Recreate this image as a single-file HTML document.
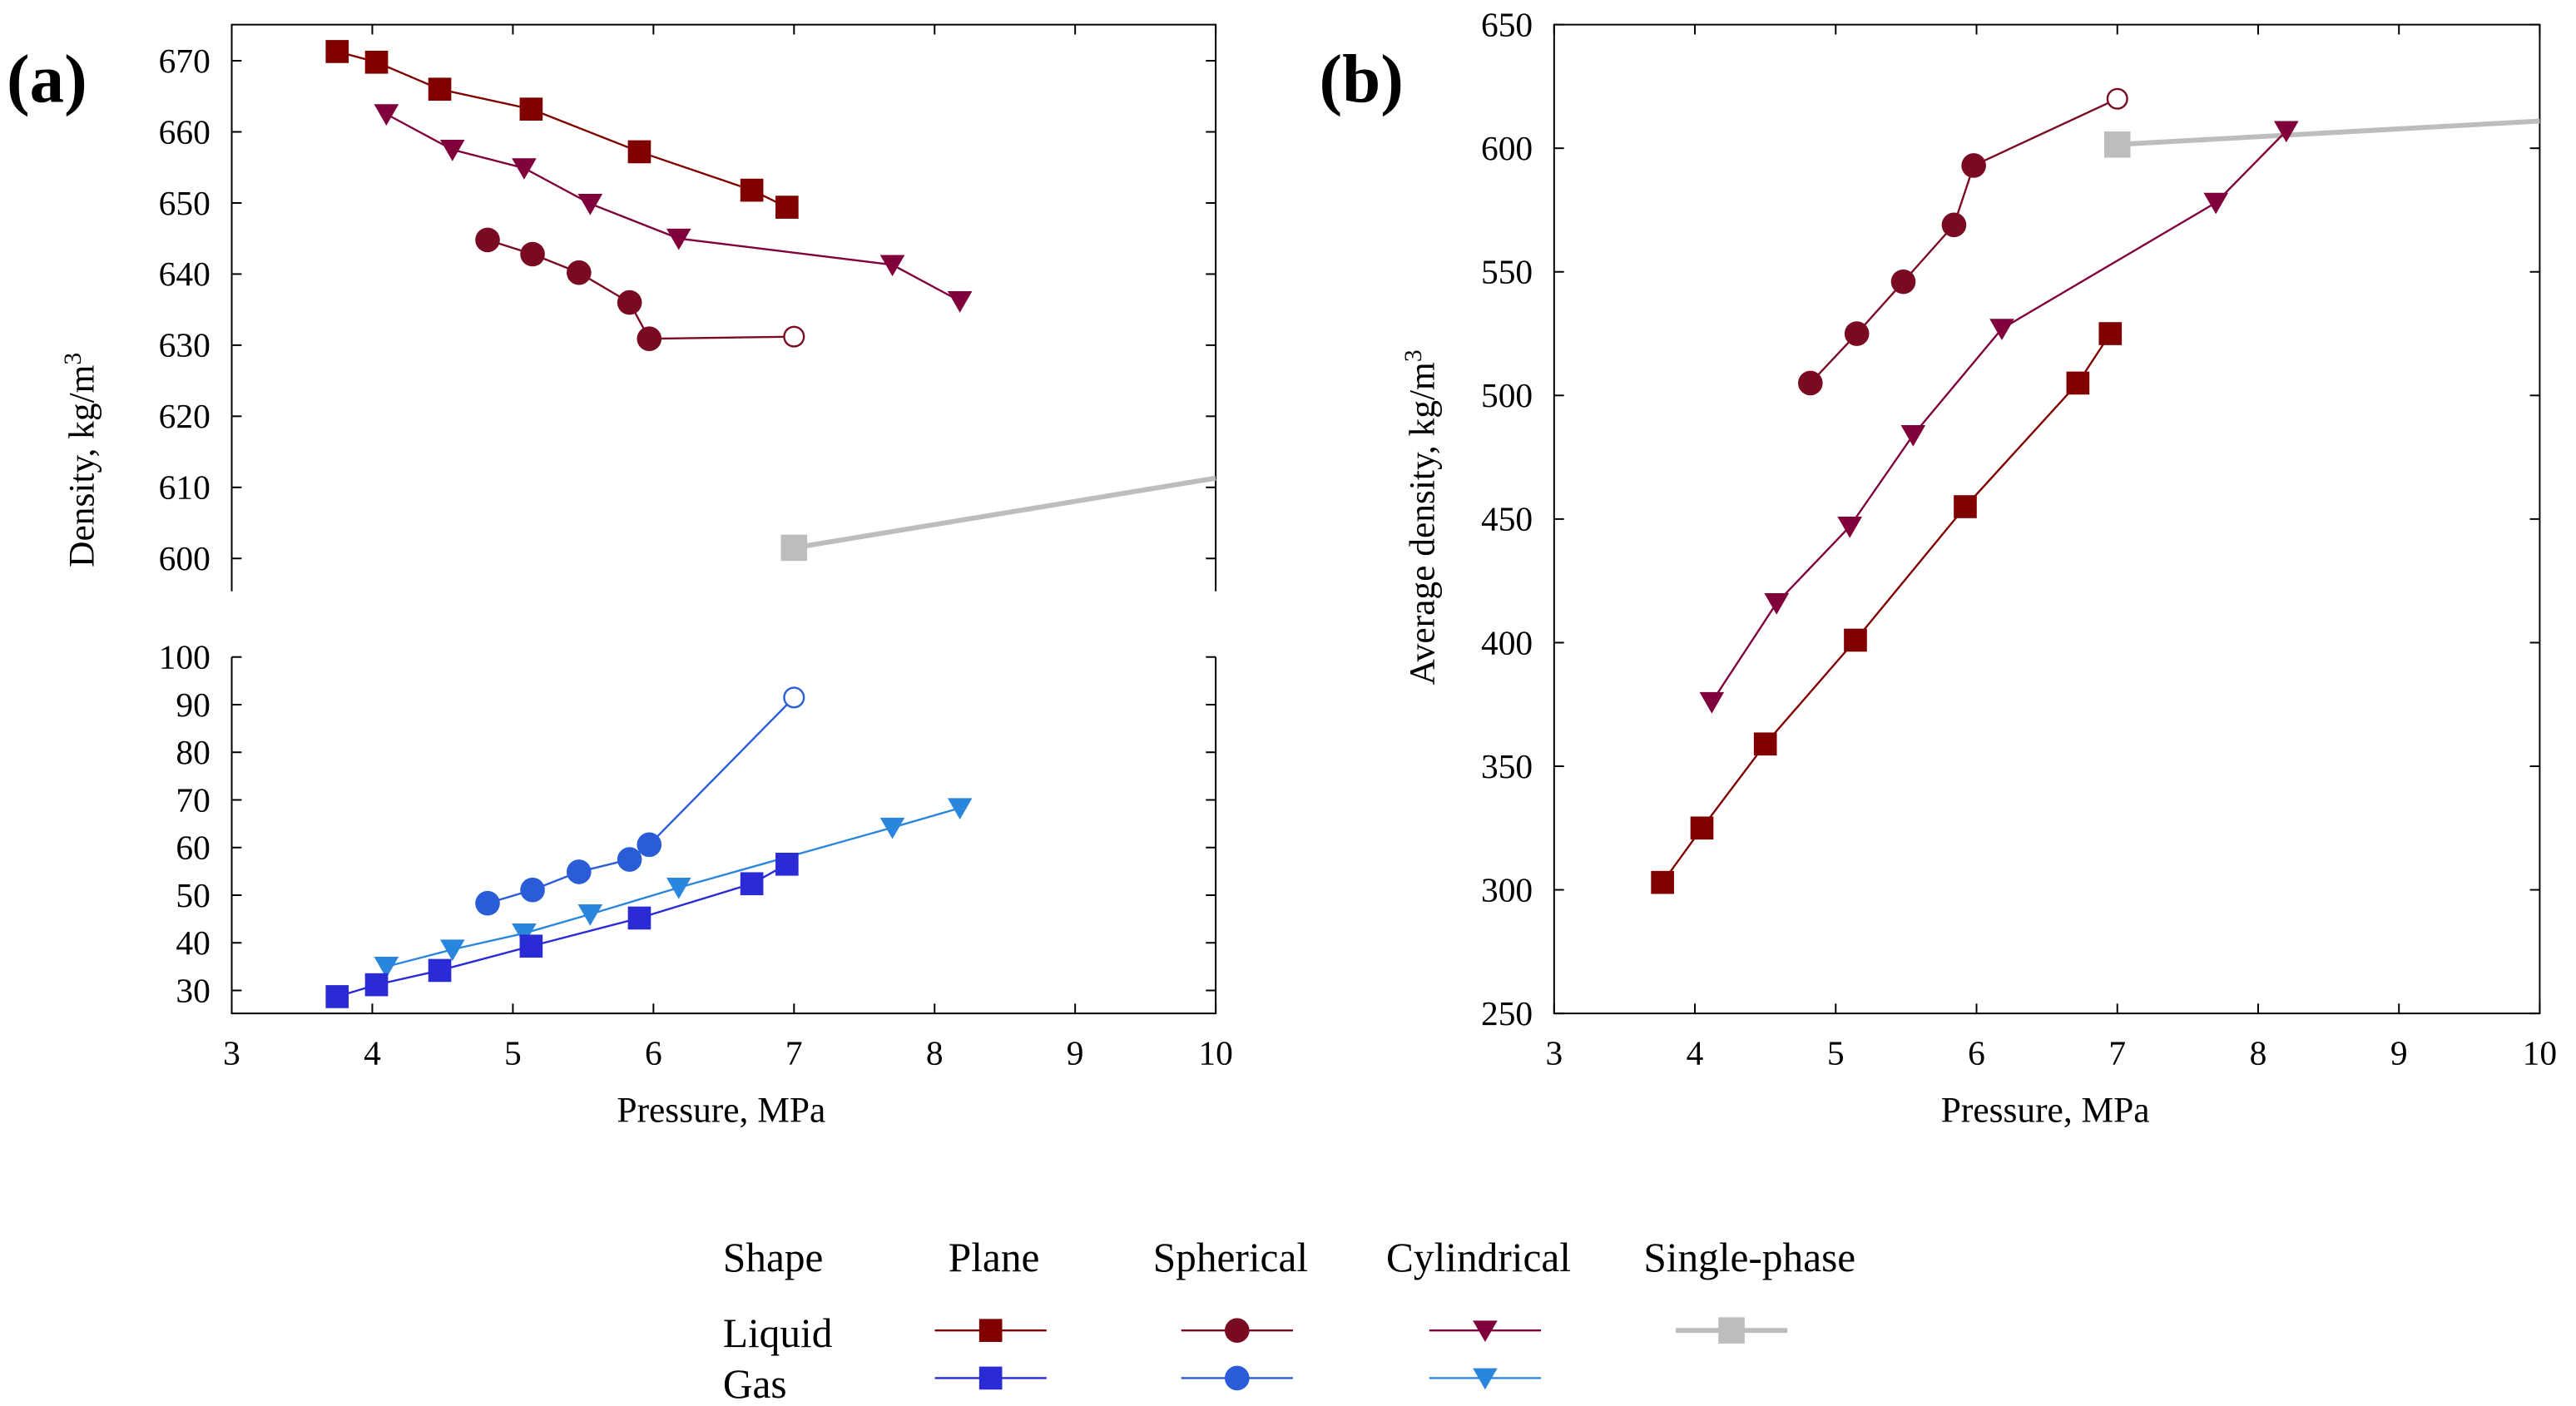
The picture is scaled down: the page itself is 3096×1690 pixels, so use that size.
<!DOCTYPE html>
<html><head><meta charset="utf-8"><style>
html,body{margin:0;padding:0;background:#fff}
svg{display:block}
text{font-family:"Liberation Serif",serif;fill:#000}
</style></head><body>
<svg id="c" width="3096" height="1690" viewBox="0 0 1568 856" xmlns="http://www.w3.org/2000/svg" font-family="Liberation Serif, serif"></svg>
<script>
const xTicks=[3,4,5,6,7,8,9,10];
const upTicks=[600,610,620,630,640,650,660,670];
const lowTicks=[30,40,50,60,70,80,90,100];
const bTicks=[250,300,350,400,450,500,550,600,650];
// panel a liquid
const aLiqPlaneX=[3.75,4.03,4.48,5.13,5.9,6.7,6.95];
const aLiqPlaneY=[671.3,669.8,666,663.2,657.2,651.8,649.4];
const aLiqCylX=[4.1,4.57,5.08,5.55,6.18,7.7,8.18];
const aLiqCylY=[662.5,657.5,654.9,649.9,645,641.3,636.2];
const aLiqSphX=[4.82,5.14,5.47,5.83,5.97,7.0];
const aLiqSphY=[644.8,642.8,640.2,636,630.9,631.2];
const aSingleX=[7,10];
const aSingleY=[601.5,611.3];
// panel a gas
const aGasPlaneY=[28.7,31.2,34.2,39.3,45.2,52.4,56.5];
const aGasCylY=[35,38.6,42,46,51.6,64.2,68.3];
const aGasSphY=[48.3,51.1,54.9,57.5,60.6,91.5];
// panel b
const bPlaneX=[3.77,4.05,4.5,5.14,5.92,6.72,6.95];
const bPlaneY=[303,325,359,401,455,505,525];
const bCylX=[4.12,4.58,5.1,5.55,6.18,7.7,8.2];
const bCylY=[376,416,447,484,527,578,607];
const bSphX=[4.82,5.15,5.48,5.84,5.98,7.0];
const bSphY=[505,525,546,569,593,620];
const bSingleX=[7,10];
const bSingleY=[601.5,611];

const NS="http://www.w3.org/2000/svg";
const svg=document.getElementById('c');
function el(tag,attrs,parent){const e=document.createElementNS(NS,tag);for(const k in attrs)e.setAttribute(k,attrs[k]);(parent||svg).appendChild(e);return e;}
function txt(s,x,y,size,anchor,parent,extra){const t=el('text',Object.assign({x:x,y:y,'font-size':size,'text-anchor':anchor||'middle','font-family':'Liberation Serif, serif'},extra||{}),parent);t.textContent=s;return t;}
function lin(d0,d1,r0,r1){return v=>r0+(v-d0)/(d1-d0)*(r1-r0);}

const C={lp:'#800000',ls:'#7a0a22',lc:'#80003c',gp:'#2b2bd6',gs:'#2a5cd8',gc:'#2a86dc',sp:'#bdbdbd'};

function marker(g,type,x,y,col,open){
  let m;
  if(type==='sq'){m=el('rect',{x:x-7,y:y-7,width:14,height:14,fill:col},g);}
  else if(type==='ci'){m=el('circle',{cx:x,cy:y,r:open?6:7.5,fill:open?'#fff':col,stroke:col,'stroke-width':open?1.2:0},g);}
  else {m=el('polygon',{points:`${x-7.5},${y-6} ${x+7.5},${y-6} ${x},${y+7}`,fill:col},g);}
  
  
}
function series(name,xs,ys,sx,sy,type,col,openLast,lw){
  const g=el('g',{});
  
  
  const pts=xs.map((x,i)=>sx(x)+','+sy(ys[i])).join(' ');
  el('polyline',{points:pts,fill:'none',stroke:col,'stroke-width':lw||1.2},g);
  xs.forEach((x,i)=>{if(type)marker(g,type,sx(x),sy(ys[i]),col,openLast&&i===xs.length-1);});
  return g;
}
function single(name,xs,ys,sx,sy){
  const g=el('g',{});
  
  
  el('polyline',{points:xs.map((x,i)=>sx(x)+','+sy(ys[i])).join(' '),fill:'none',stroke:C.sp,'stroke-width':3},g);
  const m=el('rect',{x:sx(xs[0])-8,y:sy(ys[0])-8,width:16,height:16,fill:C.sp},g);
  
  
}

// ===== Panel a =====
const ax=lin(3,10,141,740);
const ayU=lin(600,670,340,37);
const ayL=lin(30,100,603,400);
const ga=el('g',{});


el('path',{d:'M141,360 V15 H740 V360',fill:'none',stroke:'#000','stroke-width':1},ga);
el('path',{d:'M141,400 V617 H740 V400',fill:'none',stroke:'#000','stroke-width':1},ga);
upTicks.forEach(v=>{const y=ayU(v);el('line',{x1:141,y1:y,x2:147,y2:y,stroke:'#000'},ga);el('line',{x1:740,y1:y,x2:734,y2:y,stroke:'#000'},ga);const t=txt(String(v),128,y+7,21,'end',ga);});
lowTicks.forEach(v=>{const y=ayL(v);el('line',{x1:141,y1:y,x2:147,y2:y,stroke:'#000'},ga);el('line',{x1:740,y1:y,x2:734,y2:y,stroke:'#000'},ga);const t=txt(String(v),128,y+7,21,'end',ga);});
xTicks.forEach(v=>{const x=ax(v);el('line',{x1:x,y1:617,x2:x,y2:611,stroke:'#000'},ga);el('line',{x1:x,y1:15,x2:x,y2:21,stroke:'#000'},ga);const t=txt(String(v),x,648,21,'middle',ga);});
let t=txt('Pressure, MPa',439,683,22,'middle',ga);
t=el('text',{x:0,y:0,'font-size':22,'text-anchor':'middle','font-family':'Liberation Serif, serif',transform:'translate(57,280) rotate(-90)'},ga);t.innerHTML='Density, kg/m<tspan dy="-8" font-size="15">3</tspan>';
t=txt('(a)',4,62,42,'start',ga,{'font-weight':'bold'});

single('a-single-phase',aSingleX,aSingleY,ax,ayU);
series('a-liquid-plane',aLiqPlaneX,aLiqPlaneY,ax,ayU,'sq',C.lp);
series('a-liquid-cylindrical',aLiqCylX,aLiqCylY,ax,ayU,'tr',C.lc);
series('a-liquid-spherical',aLiqSphX,aLiqSphY,ax,ayU,'ci',C.ls,true);
series('a-gas-spherical',aLiqSphX,aGasSphY,ax,ayL,'ci',C.gs,true);
series('a-gas-cylindrical',aLiqCylX,aGasCylY,ax,ayL,'tr',C.gc);
series('a-gas-plane',aLiqPlaneX,aGasPlaneY,ax,ayL,'sq',C.gp);

// ===== Panel b =====
const bx=lin(3,10,946,1546);
const by=lin(250,650,617,15);
const gb=el('g',{});


el('rect',{x:946,y:15,width:600,height:602,fill:'none',stroke:'#000','stroke-width':1},gb);
bTicks.forEach(v=>{const y=by(v);el('line',{x1:946,y1:y,x2:952,y2:y,stroke:'#000'},gb);el('line',{x1:1546,y1:y,x2:1540,y2:y,stroke:'#000'},gb);const t=txt(String(v),933,y+7,21,'end',gb);});
xTicks.forEach(v=>{const x=bx(v);el('line',{x1:x,y1:617,x2:x,y2:611,stroke:'#000'},gb);el('line',{x1:x,y1:15,x2:x,y2:21,stroke:'#000'},gb);const t=txt(String(v),x,648,21,'middle',gb);});
t=txt('Pressure, MPa',1245,683,22,'middle',gb);
t=el('text',{x:0,y:0,'font-size':22,'text-anchor':'middle','font-family':'Liberation Serif, serif',transform:'translate(873,315) rotate(-90)'},gb);t.innerHTML='Average density, kg/m<tspan dy="-8" font-size="15">3</tspan>';
t=txt('(b)',803,62,42,'start',gb,{'font-weight':'bold'});

single('b-single-phase',bSingleX,bSingleY,bx,by);
series('b-plane',bPlaneX,bPlaneY,bx,by,'sq',C.lp);
series('b-cylindrical',bCylX,bCylY,bx,by,'tr',C.lc);
series('b-spherical',bSphX,bSphY,bx,by,'ci',C.ls,true);

// ===== Legend =====
const gl=el('g',{});


[['Shape',440,'start'],['Plane',605,'middle'],['Spherical',749,'middle'],['Cylindrical',900,'middle'],['Single-phase',1065,'middle']].forEach(h=>{const t=txt(h[0],h[1],774,25,h[2],gl);});
t=txt('Liquid',440,820,25,'start',gl);
t=txt('Gas',440,851,25,'start',gl);
function legEntry(cx,y,type,col,lw){const g=el('g',{},gl);el('line',{x1:cx-34,y1:y,x2:cx+34,y2:y,stroke:col,'stroke-width':lw||1.2},g);if(type==='sp'){el('rect',{x:cx-8,y:y-8,width:16,height:16,fill:col},g);}else marker(g,type,cx,y,col,false);}
legEntry(603,810,'sq',C.lp);legEntry(753,810,'ci',C.ls);legEntry(904,810,'tr',C.lc);legEntry(1054,810,'sp',C.sp,3);
legEntry(603,839,'sq',C.gp);legEntry(753,839,'ci',C.gs);legEntry(904,839,'tr',C.gc);
</script>
</body></html>
